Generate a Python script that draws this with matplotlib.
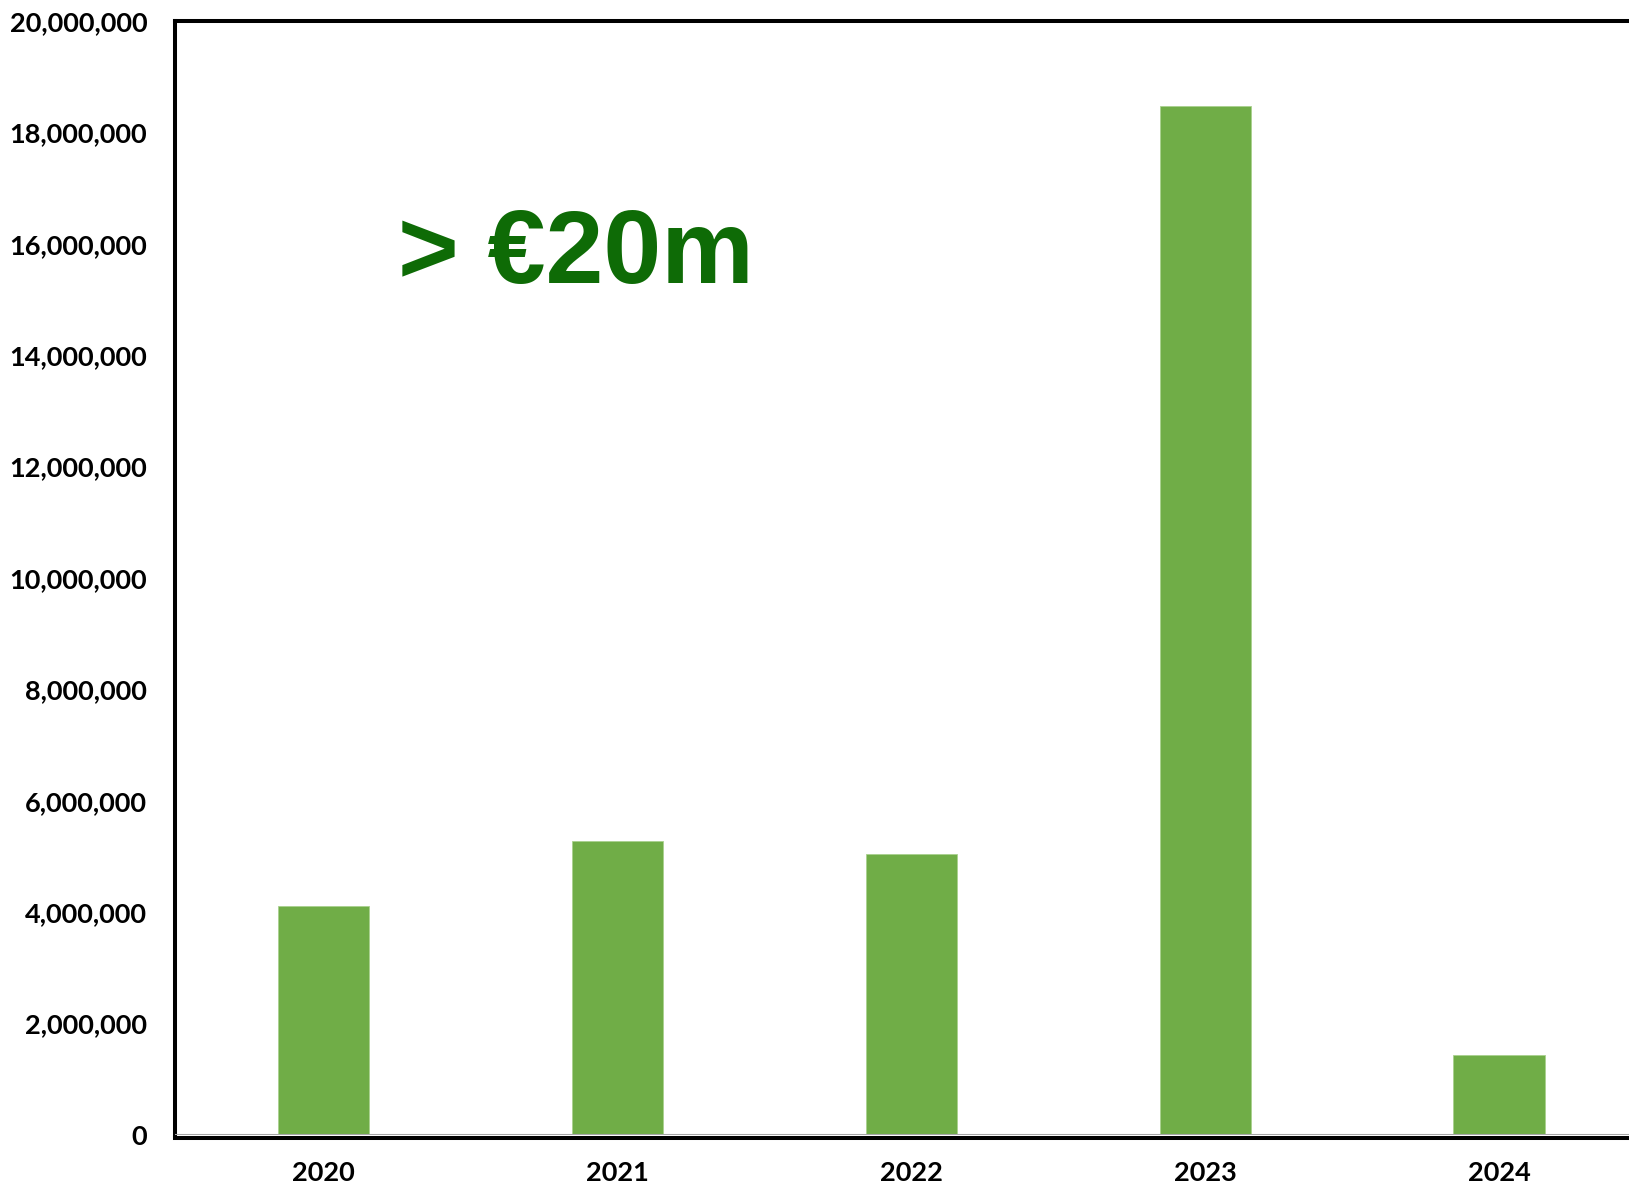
import matplotlib
matplotlib.use('Agg')
import matplotlib.pyplot as pyplot
from matplotlib.ticker import FuncFormatter

# Annual amounts (EUR)
years = ['2020', '2021', '2022', '2023', '2024']
amounts = [4120000, 5270000, 5050000, 18470000, 1440000]
y_ticks = [0, 2000000, 4000000, 6000000, 8000000, 10000000,
           12000000, 14000000, 16000000, 18000000, 20000000]
headline = '> \u20ac20m'

bar_color = '#70AD47'
headline_color = '#0E6B06'

pyplot.rcParams['font.family'] = ['Lato', 'DejaVu Sans']
pyplot.rcParams['font.weight'] = 'bold'

fig = pyplot.figure(figsize=(16.29, 11.86), dpi=100)
ax = fig.add_axes([0.1074, 0.043, 0.903, 0.9393])

positions = list(range(len(years)))
ax.bar(positions, amounts, width=0.31, color=bar_color,
       edgecolor='#A9D18E', linewidth=0.6, zorder=2)
ax.axhline(0, color='#A6A6A6', linewidth=1.5, zorder=3)

ax.set_xlim(-0.505, len(years) - 0.5)
ax.set_ylim(0, 20000000)
ax.set_xticks(positions, labels=years)
ax.set_yticks(y_ticks)
ax.yaxis.set_major_formatter(FuncFormatter(lambda v, _: '{:,.0f}'.format(v)))

ax.tick_params(axis='both', labelsize=19.5, labelcolor='black')
ax.tick_params(axis='y', length=0, pad=20)
ax.tick_params(axis='x', length=0, pad=17)

for spine in ['left', 'top', 'bottom', 'right']:
    ax.spines[spine].set_color('black')
    ax.spines[spine].set_linewidth(2.9)
ax.spines['bottom'].set_position(('outward', 2))

ax.text(0.253, 15300000, headline, color=headline_color,
        fontsize=75, fontweight='bold', family=['Liberation Sans', 'DejaVu Sans'],
        ha='left', va='baseline')

fig.savefig('out.png', dpi=100)
